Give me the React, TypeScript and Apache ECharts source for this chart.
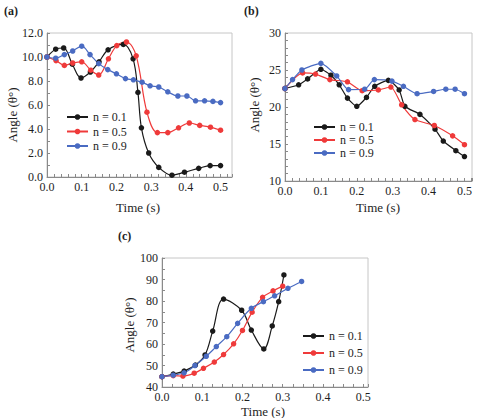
import React, { useEffect, useRef } from "react";
import * as echarts from "echarts";

type Pt = [number, number];

// Legend / series names
const seriesNames = ["n = 0.1", "n = 0.5", "n = 0.9"];
const seriesColors = ["#1a1a1a", "#ef3a3a", "#4a6bc2"];

// Panel (a): angle vs time
const a_n01: Pt[] = [
  [0, 10], [0.025, 10.65], [0.048, 10.75], [0.073, 9.4], [0.098, 8.25], [0.125, 8.75],
  [0.15, 9.6], [0.176, 10.6], [0.22, 11.05], [0.248, 9.85], [0.262, 7.05], [0.272, 4.1],
  [0.293, 2.0], [0.322, 0.8], [0.36, 0.15], [0.396, 0.4], [0.437, 0.72], [0.47, 0.95], [0.5, 0.95],
];
const a_n05: Pt[] = [
  [0, 10], [0.026, 9.7], [0.05, 9.3], [0.074, 9.5], [0.1, 9.6], [0.126, 8.9], [0.149, 8.5],
  [0.177, 9.85], [0.201, 10.95], [0.229, 11.25], [0.257, 10.1], [0.288, 5.4], [0.318, 3.7],
  [0.348, 3.7], [0.379, 4.1], [0.41, 4.5], [0.44, 4.3], [0.471, 4.15], [0.5, 3.9],
];
const a_n09: Pt[] = [
  [0, 10], [0.025, 9.9], [0.05, 10.2], [0.074, 10.5], [0.1, 10.9], [0.124, 10.2], [0.149, 9.45],
  [0.175, 8.95], [0.2, 8.6], [0.226, 8.2], [0.249, 8.1], [0.274, 7.9], [0.297, 7.6], [0.322, 7.5],
  [0.348, 7.1], [0.377, 6.75], [0.403, 6.75], [0.428, 6.35], [0.454, 6.35], [0.478, 6.3], [0.5, 6.2],
];

// Panel (b)
const b_n01: Pt[] = [
  [0, 22.5], [0.038, 23.0], [0.063, 23.8], [0.1, 25.1], [0.128, 24.3], [0.151, 23.0],
  [0.174, 21.2], [0.2, 20.1], [0.227, 21.3], [0.25, 22.8], [0.288, 23.6], [0.318, 22.3],
  [0.334, 20.1], [0.376, 19.0], [0.418, 17.0], [0.441, 15.4], [0.476, 14.1], [0.5, 13.3],
];
const b_n05: Pt[] = [
  [0, 22.5], [0.049, 24.6], [0.085, 24.45], [0.125, 23.7], [0.174, 23.4], [0.215, 22.2],
  [0.26, 22.3], [0.295, 22.7], [0.325, 20.3], [0.362, 18.3], [0.416, 17.5], [0.467, 16.1], [0.5, 14.9],
];
const b_n09: Pt[] = [
  [0, 22.5], [0.021, 23.7], [0.047, 25.0], [0.1, 25.9], [0.144, 24.2], [0.177, 22.35],
  [0.222, 22.4], [0.249, 23.7], [0.298, 23.5], [0.33, 22.8], [0.368, 21.8], [0.414, 22.1],
  [0.448, 22.4], [0.474, 22.4], [0.5, 21.8],
];

// Panel (c)
const c_n01: Pt[] = [
  [0, 44.8], [0.028, 46.0], [0.055, 47.4], [0.083, 50.2], [0.107, 54.9], [0.126, 66.0],
  [0.153, 80.9], [0.198, 75.7], [0.222, 66.5], [0.253, 57.7], [0.274, 68.4], [0.29, 79.7], [0.303, 92.1],
];
const c_n05: Pt[] = [
  [0, 44.8], [0.028, 45.3], [0.052, 45.1], [0.08, 46.4], [0.103, 48.7], [0.13, 51.6],
  [0.153, 55.1], [0.178, 60.1], [0.2, 66.3], [0.224, 74.8], [0.25, 81.7], [0.276, 84.7], [0.3, 86.9],
];
const c_n09: Pt[] = [
  [0, 44.8], [0.028, 45.5], [0.055, 46.6], [0.082, 50.0], [0.11, 54.3], [0.135, 58.8],
  [0.161, 63.4], [0.188, 69.6], [0.222, 76.6], [0.252, 79.7], [0.28, 82.4], [0.313, 85.9], [0.347, 89.1],
];

const panelData: Pt[][][] = [
  [a_n01, a_n05, a_n09],
  [b_n01, b_n05, b_n09],
  [c_n01, c_n05, c_n09],
];

// Axis ranges per panel
const xMax = [0.533, 0.521, 0.512];
const yMin = [0, 10, 40];
const yMax = [12, 30, 100];
const yStep = [2, 5, 10];
const yDecimals = [1, 0, 0];
const xMinorSplit = [5, 5, 4];
const yMinorSplit = [2, 5, 2];

const FONT = "'Liberation Serif', 'Times New Roman', 'DejaVu Serif', serif";
const AXIS_GRAY = "#8a8a8a";
const TEXT = "#1e1e1e";

export default function App() {
  const ref = useRef<HTMLDivElement>(null);

  useEffect(() => {
    if (!ref.current) return;
    const chart = echarts.init(ref.current, undefined, { renderer: "svg" });

    const grids = [
      { left: 47, top: 33, width: 185, height: 144 },
      { left: 285, top: 33, width: 187, height: 148 },
      { left: 162, top: 258, width: 206, height: 129 },
    ];

    const xAxes = grids.map((_, i) => ({
      type: "value",
      gridIndex: i,
      min: 0,
      max: xMax[i],
      interval: 0.1,
      axisLine: { show: true, lineStyle: { color: AXIS_GRAY, width: 1 } },
      axisTick: { show: true, inside: true, length: 3, lineStyle: { color: AXIS_GRAY } },
      minorTick: { show: true, splitNumber: xMinorSplit[i], length: 3, lineStyle: { color: AXIS_GRAY } },
      splitLine: { show: false },
      axisLabel: {
        fontFamily: FONT,
        fontSize: 12,
        color: TEXT,
        margin: 4,
        showMaxLabel: false,
        formatter: (v: number) =>
          Math.abs(v * 10 - Math.round(v * 10)) < 1e-6 ? v.toFixed(1) : "",
      },
    }));

    const yAxes = grids.map((_, i) => ({
      type: "value",
      gridIndex: i,
      min: yMin[i],
      max: yMax[i],
      interval: yStep[i],
      axisLine: { show: true, lineStyle: { color: AXIS_GRAY, width: 1 } },
      axisTick: { show: true, inside: true, length: 3, lineStyle: { color: AXIS_GRAY } },
      minorTick: { show: true, splitNumber: yMinorSplit[i], length: 3, lineStyle: { color: AXIS_GRAY } },
      splitLine: { show: false },
      axisLabel: {
        fontFamily: FONT,
        fontSize: 12,
        color: TEXT,
        margin: 4,
        formatter: (v: number) => v.toFixed(yDecimals[i]),
      },
    }));

    const smoothness = [0.35, 0.2, 0.35];
    const series: any[] = [];
    panelData.forEach((panel, gi) => {
      panel.forEach((pts, si) => {
        series.push({
          type: "line",
          name: seriesNames[si],
          xAxisIndex: gi,
          yAxisIndex: gi,
          data: pts,
          smooth: smoothness[gi],
          symbol: "circle",
          symbolSize: 5.5,
          showSymbol: true,
          clip: false,
          lineStyle: { color: seriesColors[si], width: 1.2 },
          itemStyle: { color: seriesColors[si] },
        });
      });
    });

    const legendBase = {
      orient: "vertical",
      itemWidth: 21,
      itemHeight: 7,
      padding: 0,
      selectedMode: false,
      data: seriesNames,
    };
    const legendText = (lineHeight: number) => ({ fontFamily: FONT, fontSize: 12, color: TEXT, lineHeight });
    const legends = [
      { ...legendBase, left: 66, top: 110, itemGap: 0.5, textStyle: legendText(14) },
      { ...legendBase, left: 313, top: 120.5, itemGap: 0, textStyle: legendText(13) },
      { ...legendBase, left: 302, top: 329, itemGap: 3, textStyle: legendText(14) },
    ];

    const txt = (text: string, x: number, y: number, opts: any = {}) => ({
      type: "text",
      x,
      y,
      rotation: opts.rotation || 0,
      style: {
        text,
        fontFamily: FONT,
        fontSize: opts.fontSize || 13,
        fontWeight: opts.fontWeight || "normal",
        fill: TEXT,
        align: opts.align || "center",
        verticalAlign: "middle",
      },
    });

    const graphic = [
      txt("(a)", 4, 11, { align: "left", fontWeight: "bold", fontSize: 12 }),
      txt("(b)", 244, 11, { align: "left", fontWeight: "bold", fontSize: 12 }),
      txt("(c)", 118, 236, { align: "left", fontWeight: "bold", fontSize: 12 }),
      txt("Angle (θ°)", 12, 115, { rotation: Math.PI / 2 }),
      txt("Angle (θ°)", 254, 105, { rotation: Math.PI / 2 }),
      txt("Angle (θ°)", 129, 325, { rotation: Math.PI / 2 }),
      txt("Time (s)", 138, 207),
      txt("Time (s)", 378, 207),
      txt("Time (s)", 263, 411),
    ];

    chart.setOption({
      animation: false,
      backgroundColor: "#ffffff",
      grid: grids.map((g) => ({ ...g, show: true, borderColor: "#c6c6c6", borderWidth: 1, backgroundColor: "transparent" })),
      xAxis: xAxes,
      yAxis: yAxes,
      legend: legends,
      series,
      graphic,
    });

    return () => chart.dispose();
  }, []);

  return (
    <div
      ref={ref}
      style={{ position: "absolute", left: 0, top: 0, width: 477, height: 418, background: "#fff" }}
    />
  );
}
